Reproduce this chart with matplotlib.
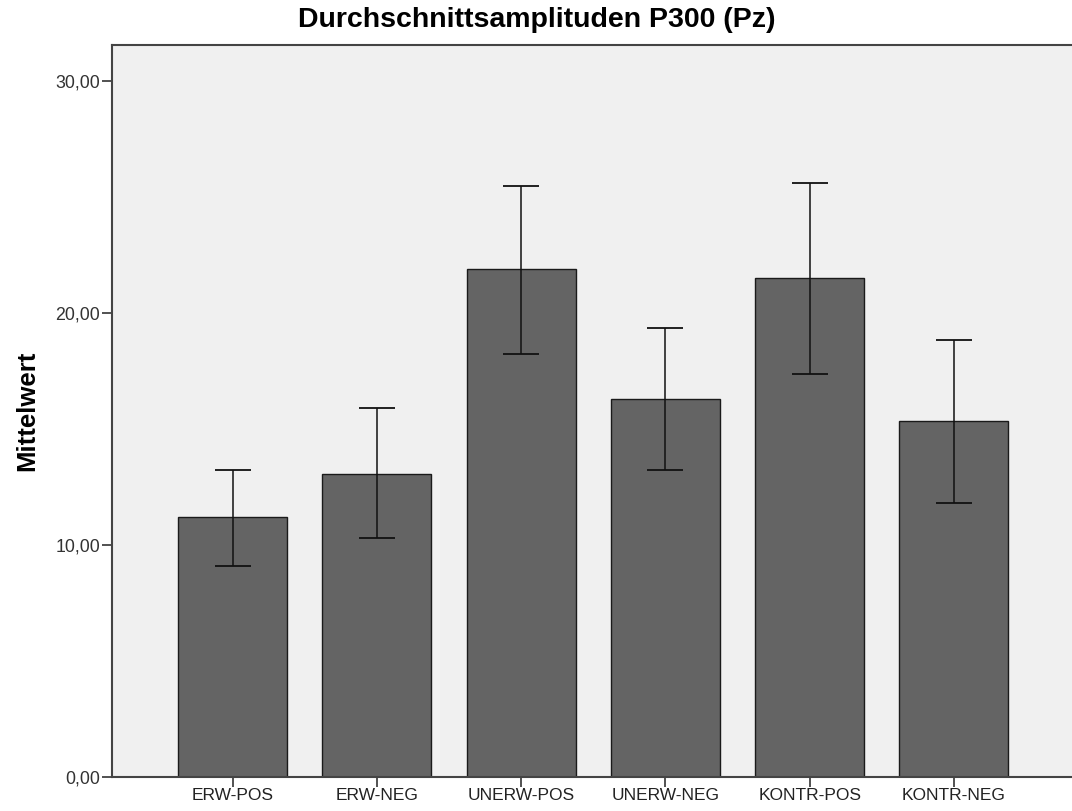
import matplotlib
matplotlib.use('Agg')
import matplotlib.pyplot as plt

# Mittelwerte und Fehlerbalken
categories = ['ERW-POS', 'ERW-NEG', 'UNERW-POS', 'UNERW-NEG', 'KONTR-POS', 'KONTR-NEG']
means = [11.2, 13.05, 21.86, 16.28, 21.47, 15.32]
err_upper = [13.23, 15.9, 25.45, 19.32, 25.57, 18.8]
err_lower = [9.09, 10.26, 18.21, 13.2, 17.35, 11.8]
yticks = [0, 10, 20, 30]
ytick_labels = ['0,00', '10,00', '20,00', '30,00']

plt.rcParams['font.family'] = ['Liberation Sans', 'DejaVu Sans']

fig = plt.figure(figsize=(10.72, 8.11), dpi=100)
ax = fig.add_axes([0.1045, 0.0425, 0.8955, 0.902])
ax.set_facecolor('#f0f0f0')

x = list(range(len(categories)))
yerr = [[m - lo for m, lo in zip(means, err_lower)],
        [hi - m for m, hi in zip(means, err_upper)]]

ax.bar(x, means, width=0.755, color='#646464', edgecolor='#1a1a1a', linewidth=1.0, zorder=2)
ax.errorbar(x, means, yerr=yerr, fmt='none', ecolor='#111111', elinewidth=1.1,
            capsize=13, capthick=1.3, zorder=3)

ax.set_xlim(-0.835, 5.818)
ax.set_ylim(0, 31.53)
ax.set_xticks(x)
ax.set_xticklabels(categories, fontsize=12.5, color='#222222')
ax.set_yticks(yticks)
ax.set_yticklabels(ytick_labels, fontsize=12.8, color='#333333')
ax.tick_params(axis='both', direction='out', length=7, width=1.2, color='#333333', pad=1.5)

for side in ['left', 'bottom', 'top']:
    ax.spines[side].set_color('#444444')
    ax.spines[side].set_linewidth(1.5)
ax.spines['right'].set_visible(False)

ax.set_ylabel('Mittelwert', fontsize=18.5, fontweight='bold', labelpad=12)
fig.text(0.501, 0.975, 'Durchschnittsamplituden P300 (Pz)', ha='center', va='center',
         fontsize=20.5, fontweight='bold')

fig.savefig('out.png', dpi=100)
